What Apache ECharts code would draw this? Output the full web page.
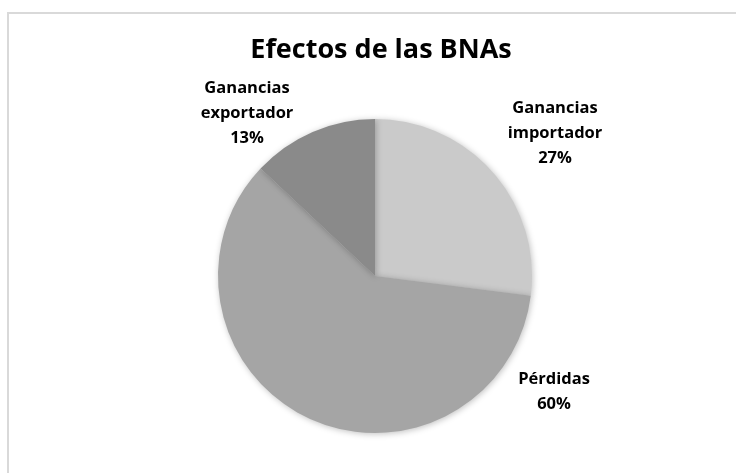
<!DOCTYPE html>
<html>
<head>
<meta charset="utf-8">
<script src="https://cdn.jsdelivr.net/npm/echarts@6/dist/echarts.min.js"></script>
<style>
html,body{margin:0;padding:0;background:#fff;}
#c{width:736px;height:473px;}
</style>
</head>
<body>
<div id="c"></div>
<script>
var titleText = "Efectos de las BNAs";
var categories = ["Ganancias importador", "Pérdidas", "Ganancias exportador"];
var values = [27, 60, 13];
var colors = ["#cacaca", "#a5a5a5", "#8a8a8a"];

var labelPos = [[555, 133], [554, 392], [247, 113]];

var chart = echarts.init(document.getElementById('c'), null, {renderer: 'canvas'});
var font = '"Open Sans", "DejaVu Sans", sans-serif';
chart.setOption({
  backgroundColor: '#ffffff',
  animation: false,
  title: {
    text: titleText,
    left: 376,
    top: 32,
    textAlign: 'center',
    textStyle: {fontFamily: font, fontWeight: 'bold', fontSize: 27, color: '#000'}
  },
  graphic: [{
    type: 'rect',
    shape: {x: 8, y: 13, width: 760, height: 500},
    style: {fill: 'none', stroke: '#d9d9d9', lineWidth: 2},
    silent: true
  }],
  series: [{
    type: 'pie',
    center: [375, 276],
    radius: 157,
    startAngle: 90,
    clockwise: true,
    data: categories.map(function (n, i) {
      return {name: n, value: values[i], itemStyle: {color: colors[i]}};
    }),
    itemStyle: {
      borderWidth: 0,
      shadowBlur: 6,
      shadowColor: 'rgba(0,0,0,0.25)',
      shadowOffsetX: 1,
      shadowOffsetY: 1
    },
    emphasis: {disabled: true},
    labelLine: {show: false},
    label: {
      show: true,
      position: 'outside',
      formatter: function (p) { return p.name.split(' ').join('\n') + '\n' + p.percent.toFixed(0) + '%'; },
      fontFamily: font,
      fontWeight: 'bold',
      fontSize: 16.5,
      lineHeight: 25,
      color: '#000',
      align: 'center'
    },
    labelLayout: function (p) {
      var pos = labelPos[p.dataIndex];
      return {x: pos[0], y: pos[1], align: 'center', verticalAlign: 'middle'};
    }
  }]
});
</script>
</body>
</html>
